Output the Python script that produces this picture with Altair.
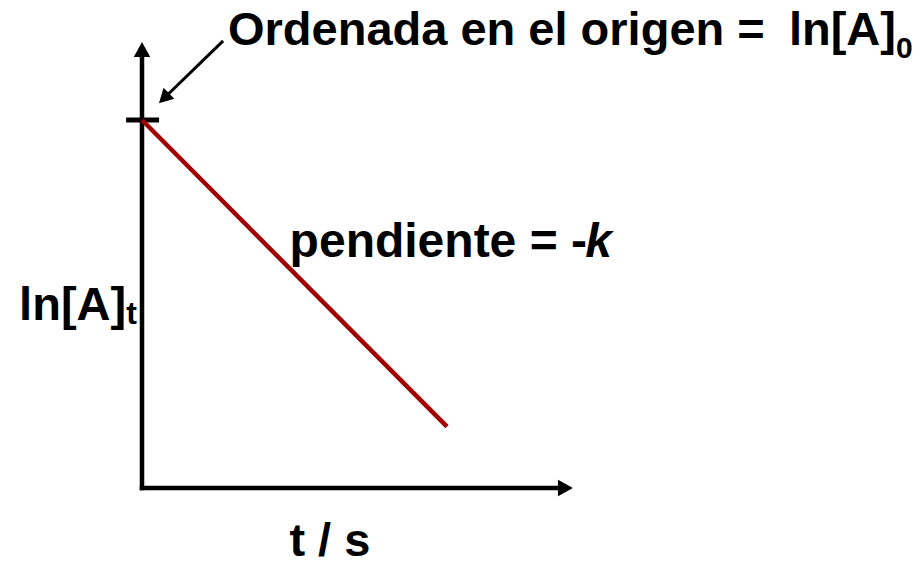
import altair as alt
import pandas as pd

# ---------------- data (schematic, data units) ----------------
line_t = [0, 10]          # t / s
line_lnA = [12, 2]        # ln[A]_t  (intercept ln[A]0 = 12, slope -k = -1)

time_axis_end = 14.13     # arrow tip of t axis
ln_axis_end = 14.54       # arrow tip of ln[A] axis
tick_span = [-0.52, 0.56] # small tick marking the intercept
intercept = 12

annot_from = [2.66, 14.58]   # annotation arrow start (t, lnA)
annot_to = [0.557, 12.55]    # annotation arrow tip (t, lnA)

title_main = "Ordenada en el origen ="
title_ln = "ln[A]"
title_sub = "0"
slope_text = "pendiente = -"
slope_k = "k"
ylab_main = "ln[A]"
ylab_sub = "t"
xlab = "t / s"

# ---------------- scales ----------------
xs = alt.Scale(domain=[0, 10], range=[134, 439], zero=False, nice=False)
ys = alt.Scale(domain=[0, 12], range=[480, 112], zero=False, nice=False)


def X(f):
    return alt.X(f, type="quantitative", scale=xs, axis=None)


def Y(f):
    return alt.Y(f, type="quantitative", scale=ys, axis=None)


FONT = "Liberation Sans"
FS = 47
FS_SUB = 30
ARROW = "M0,0L-2,-1.1L-2,1.1Z"

# axes shafts
axes_df = pd.DataFrame({
    "t": [0, 0],
    "v": [0, 0],
    "t2": [0, time_axis_end - 0.26],
    "v2": [ln_axis_end - 0.26, 0],
})
axes = alt.Chart(axes_df).mark_rule(color="black", strokeWidth=4.5, strokeCap="square").encode(
    x=X("t"), y=Y("v"), x2="t2", y2="v2"
)

# arrow heads on axes
heads_df = pd.DataFrame({"t": [0, time_axis_end], "v": [ln_axis_end, 0], "ang": [270, 0]})
heads = alt.Chart(heads_df).mark_point(
    shape=ARROW, filled=True, color="black", opacity=1, size=225, strokeWidth=0
).encode(x=X("t"), y=Y("v"), angle=alt.Angle("ang:Q", scale=None))

# intercept tick
tick_df = pd.DataFrame({"t": [tick_span[0]], "t2": [tick_span[1]], "v": [intercept]})
tick = alt.Chart(tick_df).mark_rule(color="black", strokeWidth=5).encode(
    x=X("t"), x2="t2", y=Y("v")
)

# the straight line
line_df = pd.DataFrame({"t": line_t, "v": line_lnA})
line = alt.Chart(line_df).mark_line(color="#A00000", strokeWidth=4.5).encode(
    x=X("t"), y=Y("v")
)

# annotation arrow
dt = annot_to[0] - annot_from[0]
dv = annot_to[1] - annot_from[1]
frac = 0.91
ann_df = pd.DataFrame({
    "t": [annot_from[0]], "v": [annot_from[1]],
    "t2": [annot_from[0] + frac * dt], "v2": [annot_from[1] + frac * dv],
})
ann = alt.Chart(ann_df).mark_rule(color="black", strokeWidth=3).encode(
    x=X("t"), y=Y("v"), x2="t2", y2="v2"
)
ann_head_df = pd.DataFrame({"t": [annot_to[0]], "v": [annot_to[1]], "ang": [135.4]})
ann_head = alt.Chart(ann_head_df).mark_point(
    shape=ARROW, filled=True, color="black", opacity=1, size=196, strokeWidth=0
).encode(x=X("t"), y=Y("v"), angle=alt.Angle("ang:Q", scale=None))


def label(txt, t, v, align, size=FS, style="normal"):
    df = pd.DataFrame({"txt": [txt], "t": [t], "v": [v]})
    return alt.Chart(df).mark_text(
        align=align, baseline="alphabetic", font=FONT, fontSize=size,
        fontWeight="bold", fontStyle=style, color="black"
    ).encode(x=X("t"), y=Y("v"), text="txt:N")


texts = [
    label(title_main, 2.82, 14.43, "left"),
    label(title_ln, 24.72, 14.43, "right"),
    label(title_sub, 24.72, 14.02, "left", FS_SUB),
    label(slope_text, 14.59, 7.53, "right", 48),
    label(slope_k, 14.53, 7.53, "left", 48, "italic"),
    label(ylab_main, -0.52, 5.49, "right"),
    label(ylab_sub, -0.52, 5.35, "left", 32),
    label(xlab, 6.16, -2.22, "center"),
]

chart = alt.layer(axes, heads, tick, line, ann, ann_head, *texts).properties(
    width=905, height=549, padding=0, autosize=alt.AutoSizeParams(type="none")
).configure_view(stroke=None)

chart.save("out.html", embed_options={"renderer": "svg", "actions": False})
